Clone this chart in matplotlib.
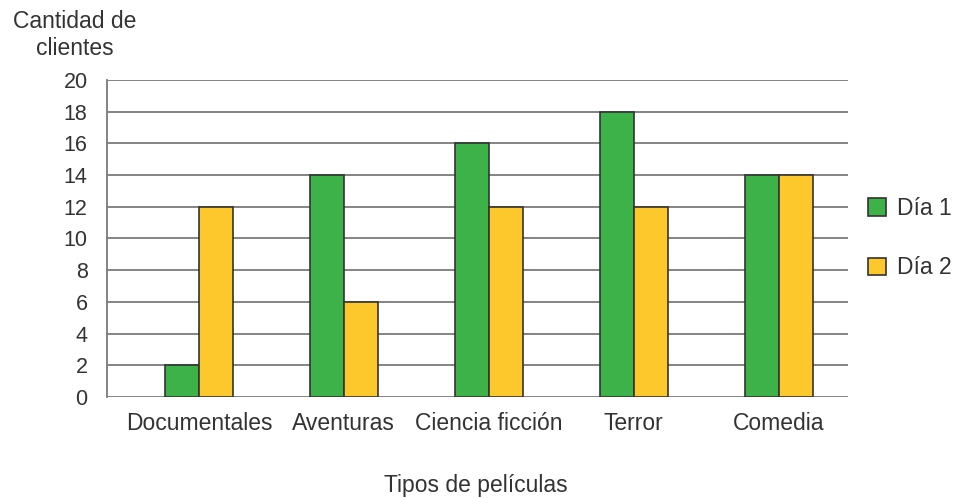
import numpy as np
import matplotlib.pyplot as plt

# datos del gráfico
categorias = ['Documentales', 'Aventuras', 'Ciencia ficción', 'Terror', 'Comedia']
dia1 = [2, 14, 16, 18, 14]
dia2 = [12, 6, 12, 12, 14]
yticks = list(range(0, 21, 2))

plt.rcParams['font.family'] = ['Liberation Sans', 'DejaVu Sans']

fig = plt.figure(figsize=(9.59, 4.98), dpi=100)
ax = fig.add_axes([0.1116, 0.203, 0.7724, 0.6364])

x = np.arange(len(categorias))
ancho = 0.233
ax.bar(x - ancho / 2, dia1, ancho, color='#3db249', edgecolor='#333333', linewidth=1.2, label='Día 1', zorder=3)
ax.bar(x + ancho / 2, dia2, ancho, color='#fdc82c', edgecolor='#333333', linewidth=1.2, label='Día 2', zorder=3)

ax.set_xlim(-0.634, 4.476)
ax.set_ylim(0, 20)
ax.set_yticks(yticks)
ax.set_xticks(x)
ax.set_xticklabels(categorias)

# líneas horizontales de la cuadrícula
for y in yticks:
    ax.axhline(y, color='#7a7a7a', linewidth=1.3, zorder=1)

for s in ['top', 'right', 'bottom']:
    ax.spines[s].set_visible(False)
ax.spines['left'].set_color('#7a7a7a')
ax.spines['left'].set_linewidth(1.3)

ax.tick_params(axis='y', length=0, pad=14, labelsize=15.5, labelcolor='#333333')
ax.tick_params(axis='x', length=0, pad=11, labelsize=16.5, labelcolor='#333333')

fig.text(0.078, 0.93, 'Cantidad de\nclientes', ha='center', va='center', fontsize=16.5,
         color='#333333', linespacing=1.25)
fig.text(0.496, 0.026, 'Tipos de películas', ha='center', va='center', fontsize=16.5, color='#333333')

fig.legend(loc='center left', bbox_to_anchor=(0.905, 0.522), frameon=False, fontsize=16.5,
           handlelength=0.8, handleheight=0.8, labelspacing=1.6, handletextpad=0.48,
           borderpad=0, borderaxespad=0, labelcolor='#333333')

plt.savefig('out.png', dpi=100)
